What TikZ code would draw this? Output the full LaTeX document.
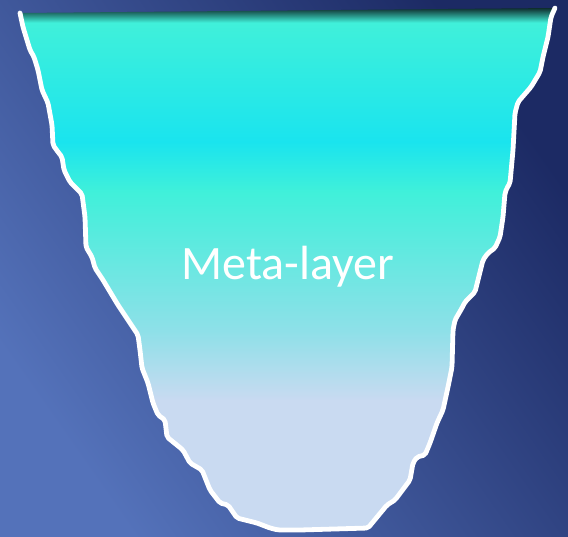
\documentclass[tikz,border=0pt]{standalone}
\usepackage{fontspec}
\setmainfont{Carlito}
\usepackage{tikz}
\usetikzlibrary{positioning}
\definecolor{seatop}{RGB}{28,42,100}
\definecolor{seabot}{RGB}{84,114,186}
\definecolor{bergdark}{RGB}{15,45,45}
\definecolor{bergtq}{RGB}{64,240,218}
\definecolor{bergcyan}{RGB}{26,228,238}
\definecolor{bergmid}{RGB}{142,224,232}
\definecolor{berglav}{RGB}{201,218,241}
\pgfdeclareverticalshading{berg}{100bp}{
  color(0bp)=(berglav); color(25bp)=(berglav); color(37.4bp)=(berglav);
  color(44.1bp)=(bergmid); color(57.4bp)=(bergtq); color(62.2bp)=(bergcyan);
  color(73.6bp)=(bergtq); color(75bp)=(bergdark); color(100bp)=(bergdark)}
\tikzset{
  sea/.style={top color=seatop,bottom color=seabot,shading angle=-55},
  bergfill/.style={shading=berg},
  rim/.style={draw=white,line width=4.8pt,line join=round,line cap=round,
    rounded corners=2pt},
  lbl/.style={text=white,font=\fontsize{48}{52}\selectfont,inner sep=0pt},
}
\begin{document}
\begin{tikzpicture}[x=1pt,y=-1pt]
  \useasboundingbox (0,0) rectangle (568,536);
  % water
  \shade[sea] (0,0) rectangle (568,536);
  % underwater ice, top edge first
  \def\bergside{(555,8) -- (551,17) -- (548,37) -- (543,57) -- (540,72)
    -- (531,87) -- (518,102) -- (515,113) -- (513,150) -- (510,183)
    -- (507,188) -- (505,193) -- (503,217) -- (500,237) -- (495,248)
    -- (488,253) -- (483,260) -- (478,280) -- (475,292) -- (470,297)
    -- (465,302) -- (462,308) -- (455,320) -- (453,330) -- (452,367)
    -- (448,387) -- (443,410) -- (437,423) -- (430,443) -- (425,455)
    -- (417,457) -- (413,463) -- (410,480) -- (395,500) -- (387,505)
    -- (368,528) -- (300,530) -- (278,530) -- (270,528) -- (257,523)
    -- (237,518) -- (228,505) -- (220,503) -- (210,490) -- (202,470)
    -- (190,463) -- (183,450) -- (167,437) -- (165,420) -- (158,415)
    -- (153,403) -- (148,383) -- (142,368) -- (140,350) -- (138,335)
    -- (118,305) -- (103,280) -- (95,268) -- (92,257) -- (86,247)
    -- (85,217) -- (82,194) -- (70,182) -- (64,170) -- (62,157)
    -- (58,152) -- (53,145) -- (52,125) -- (48,103) -- (42,90)
    -- (38,70) -- (34,57) -- (30,50) -- (23,27) -- (20,13)}
  \shade[bergfill,rounded corners=2pt] \bergside -- cycle;
  \draw[rim] \bergside;
  \node[lbl,anchor=base] (meta) at (288,279) {Meta-layer};
\end{tikzpicture}
\end{document}
